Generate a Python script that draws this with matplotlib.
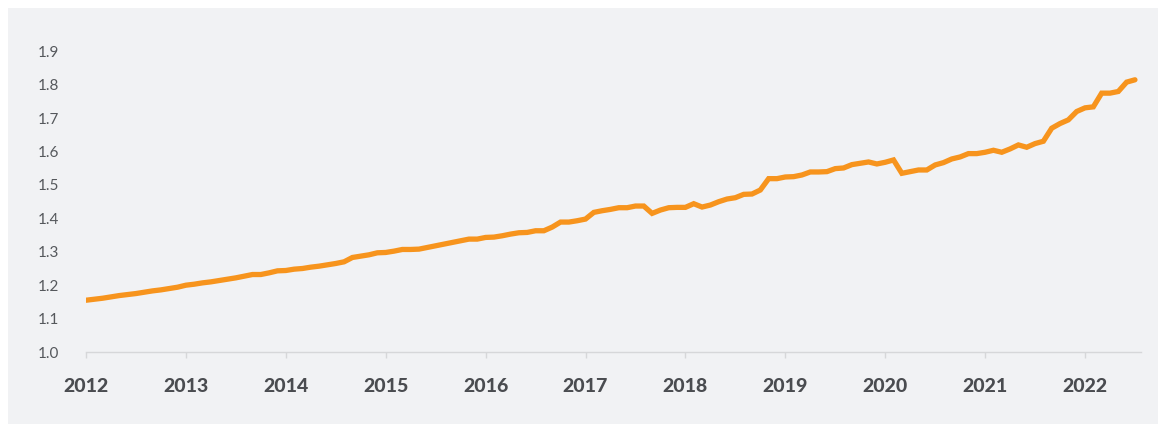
import matplotlib
matplotlib.use("Agg")
import matplotlib.pyplot as plt
from matplotlib.patches import Rectangle
import numpy as np

# Monthly values, Jan 2012 .. Jul 2022
values_2012 = [1.155, 1.158, 1.161, 1.165, 1.169, 1.172, 1.175, 1.179, 1.183, 1.186, 1.190, 1.194]
values_2013 = [1.200, 1.203, 1.207, 1.210, 1.214, 1.218, 1.222, 1.227, 1.232, 1.232, 1.237, 1.243]
values_2014 = [1.244, 1.248, 1.250, 1.254, 1.257, 1.261, 1.265, 1.270, 1.283, 1.287, 1.291, 1.297]
values_2015 = [1.298, 1.302, 1.307, 1.307, 1.308, 1.313, 1.318, 1.323, 1.328, 1.333, 1.338, 1.338]
values_2016 = [1.343, 1.344, 1.348, 1.353, 1.357, 1.358, 1.363, 1.363, 1.374, 1.389, 1.389, 1.393]
values_2017 = [1.398, 1.418, 1.423, 1.427, 1.432, 1.432, 1.437, 1.437, 1.415, 1.425, 1.432, 1.433]
values_2018 = [1.433, 1.444, 1.434, 1.440, 1.450, 1.458, 1.462, 1.472, 1.473, 1.485, 1.519, 1.519]
values_2019 = [1.524, 1.525, 1.530, 1.539, 1.539, 1.540, 1.549, 1.551, 1.561, 1.565, 1.569, 1.563]
values_2020 = [1.568, 1.575, 1.535, 1.540, 1.545, 1.545, 1.560, 1.567, 1.578, 1.584, 1.594, 1.594]
values_2021 = [1.598, 1.604, 1.598, 1.608, 1.620, 1.613, 1.624, 1.631, 1.670, 1.684, 1.695, 1.720]
values_2022 = [1.731, 1.734, 1.775, 1.775, 1.780, 1.808, 1.815]

start_year = 2012
year_ticks = list(range(2012, 2023))
y_ticks = [1.0, 1.1, 1.2, 1.3, 1.4, 1.5, 1.6, 1.7, 1.8, 1.9]

values = (values_2012 + values_2013 + values_2014 + values_2015 + values_2016 +
          values_2017 + values_2018 + values_2019 + values_2020 + values_2021 + values_2022)
t = start_year + np.arange(len(values)) / 12.0

W, H = 1158, 424
fig = plt.figure(figsize=(W / 100, H / 100), dpi=100, facecolor="white")
fig.patches.append(Rectangle((8 / W, 0), 1 - 8 / W, 1 - 8 / H, transform=fig.transFigure,
                             facecolor="#f1f2f4", edgecolor="none", zorder=-10))

left_px, right_px, bottom_px = 86, 1141, 352
ymin, ymax = 1.0, 1.99
px_per_unit = 334
top_px = bottom_px - (ymax - ymin) * px_per_unit
ax = fig.add_axes([left_px / W, (H - bottom_px) / H, (right_px - left_px) / W, (bottom_px - top_px) / H])
ax.set_facecolor("none")
ax.set_zorder(5)

ax.plot(t, values, color="#f7941d", linewidth=3.8, solid_joinstyle="miter", solid_capstyle="round")

ax.set_xlim(2012, 2012 + (right_px - left_px) / 99.9)
ax.set_ylim(ymin, ymax)
ax.set_xticks(year_ticks)
ax.set_xticklabels([str(y) for y in year_ticks], fontfamily="Lato", fontweight="black",
                   fontsize=14, color="#4a4c50")
ax.set_yticks(y_ticks)
ax.set_yticklabels([f"{v:.1f}" for v in y_ticks], fontfamily="Lato", fontsize=11, color="#55585c")

for s in ["top", "right", "left"]:
    ax.spines[s].set_visible(False)
ax.spines["bottom"].set_color("#d6d7d9")
ax.spines["bottom"].set_linewidth(1.0)
ax.tick_params(axis="x", length=4.5, width=1.0, color="#d6d7d9", pad=14)
ax.tick_params(axis="y", length=0, pad=19)

fig.savefig("out.png", dpi=100, facecolor=fig.get_facecolor())
